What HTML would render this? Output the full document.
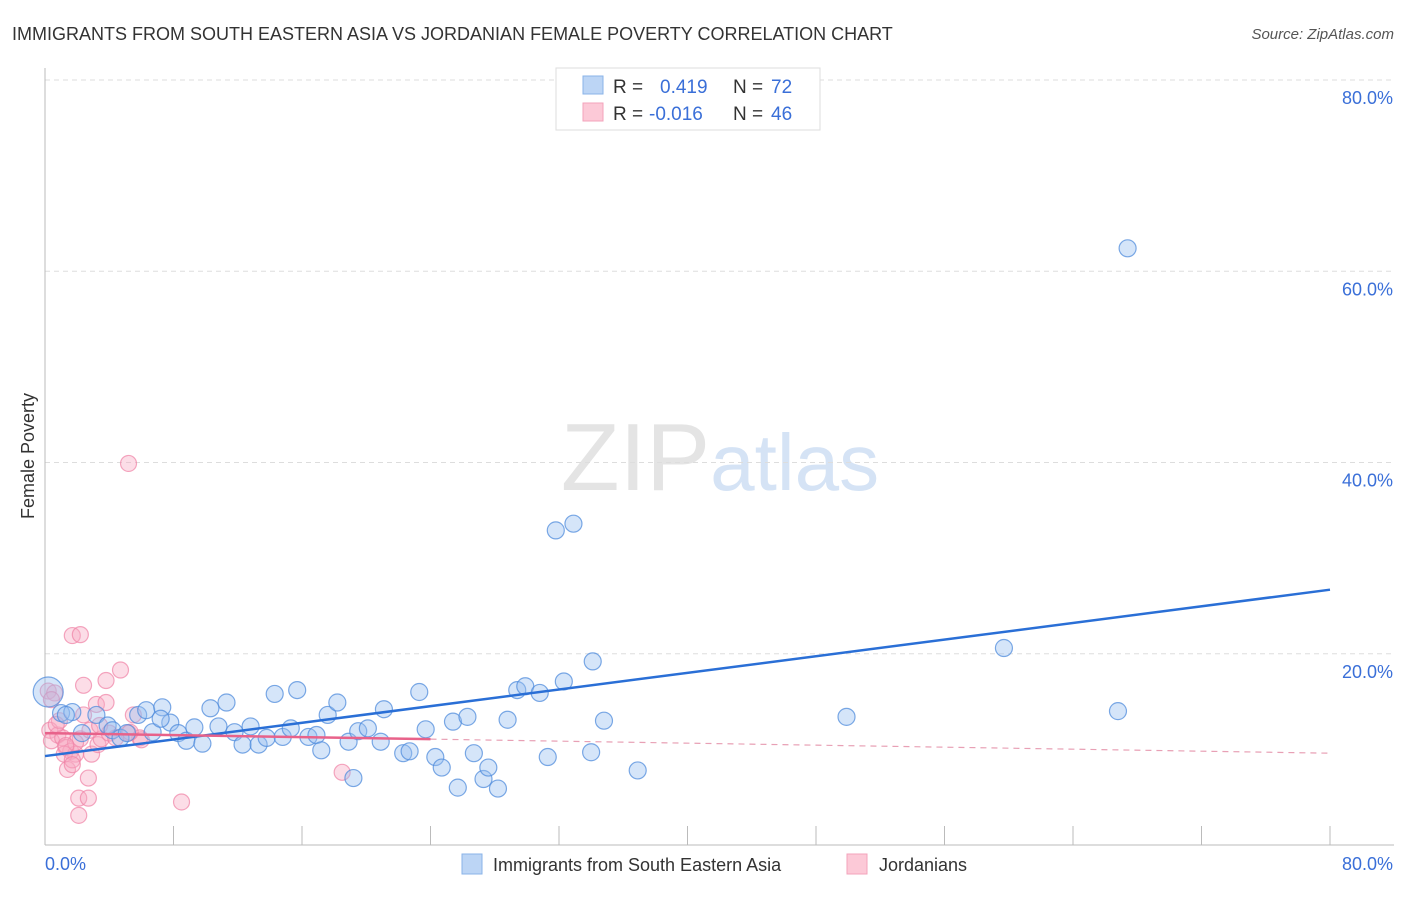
<!DOCTYPE html>
<html><head><meta charset="utf-8"><style>
body{margin:0;background:#fff;font-family:"Liberation Sans",sans-serif;}
svg text{font-family:"Liberation Sans",sans-serif;}
</style></head><body>
<svg id="chart" width="1406" height="892" xmlns="http://www.w3.org/2000/svg">
<text x="12" y="40" font-size="18" fill="#333">IMMIGRANTS FROM SOUTH EASTERN ASIA VS JORDANIAN FEMALE POVERTY CORRELATION CHART</text>
<text x="1394" y="39" font-size="15" fill="#555" font-style="italic" text-anchor="end">Source: ZipAtlas.com</text>
<text x="720" y="490" font-size="96" text-anchor="middle" fill="#e4e4e4" font-family="Liberation Serif">ZIP<tspan fill="#d5e3f5" font-family="Liberation Sans" font-size="80">atlas</tspan></text>
<text transform="translate(34,456) rotate(-90)" font-size="18" fill="#333" text-anchor="middle">Female Poverty</text>
<g id="grid"></g><g id="marks"></g>
<g>
<rect x="556" y="68" width="264" height="62" fill="#fff" stroke="#ddd"/>
<rect x="583" y="76" width="20" height="18" fill="#bcd5f5" stroke="#8ab3e8"/>
<rect x="583" y="103" width="20" height="18" fill="#fcc9d7" stroke="#f3a3bb"/>
<text x="613" y="93" font-size="19" fill="#333">R = </text><text x="660" y="93" font-size="19" fill="#3a6fd8">0.419</text>
<text x="733" y="93" font-size="19" fill="#333">N = </text><text x="771" y="93" font-size="19" fill="#3a6fd8">72</text>
<text x="613" y="120" font-size="19" fill="#333">R = </text><text x="649" y="120" font-size="19" fill="#3a6fd8">-0.016</text>
<text x="733" y="120" font-size="19" fill="#333">N = </text><text x="771" y="120" font-size="19" fill="#3a6fd8">46</text>
</g>
<g>
<rect x="462" y="854" width="20" height="20" fill="#bcd5f5" stroke="#8ab3e8"/>
<text x="493" y="871" font-size="18" fill="#333">Immigrants from South Eastern Asia</text>
<rect x="847" y="854" width="20" height="20" fill="#fcc9d7" stroke="#f3a3bb"/>
<text x="879" y="871" font-size="18" fill="#333">Jordanians</text>
</g>
</svg>
<script>
const yTicks=[20,40,60,80];
const yTickLabels=["20.0%","40.0%","60.0%","80.0%"];
const xTickLabels=["0.0%","80.0%"];
const blueX=[0.2,1.0,1.7,1.3,2.3,3.2,3.9,4.2,4.7,5.1,5.8,6.3,6.7,7.3,7.8,8.3,8.8,9.3,9.8,10.3,10.8,11.3,11.8,12.3,12.8,13.3,13.8,14.3,14.8,15.3,15.7,16.4,16.9,17.2,17.6,18.2,18.9,19.5,20.1,20.9,21.1,22.3,22.7,23.3,23.7,24.3,24.7,25.4,25.7,26.3,26.7,27.3,27.6,28.2,28.8,29.4,29.9,30.8,31.3,31.8,32.3,32.9,34.0,34.1,34.8,36.9,49.9,59.7,66.8,67.4,19.2,7.2];
const blueY=[16.0,13.8,13.9,13.6,11.7,13.6,12.5,12.0,11.2,11.7,13.6,14.1,11.8,14.4,12.8,11.7,10.9,12.3,10.6,14.3,12.4,14.9,11.8,10.5,12.4,10.5,11.2,15.8,11.3,12.2,16.2,11.3,11.5,9.9,13.6,14.9,10.8,11.9,12.2,10.8,14.2,9.6,9.8,16.0,12.1,9.2,8.1,12.9,6.0,13.4,9.6,6.9,8.1,5.9,13.1,16.2,16.6,15.9,9.2,32.9,17.1,33.6,9.7,19.2,13.0,7.8,13.4,20.6,14.0,62.4,7.0,13.2];
const pinkX=[0.2,0.6,0.3,0.8,0.4,1.1,1.3,1.6,1.9,1.2,1.4,1.7,2.1,2.1,2.7,2.7,2.2,2.9,3.2,3.3,3.5,3.8,3.8,2.4,4.7,1.7,2.2,5.2,5.2,5.9,5.5,6.0,8.5,18.5,2.8,4.0,0.9,2.4,0.4,0.7,1.9,3.4,4.4,5.3,1.3,1.7];
const pinkY=[16.1,15.9,12.0,11.5,10.9,11.2,10.2,9.8,9.5,9.5,7.9,8.9,4.9,3.1,4.9,7.0,11.1,9.5,14.7,10.5,11.1,14.9,17.2,16.7,18.3,21.9,22.0,39.9,11.7,11.2,13.6,11.0,4.5,7.6,12.0,11.7,13.0,13.6,15.2,12.6,10.7,12.5,11.2,11.8,10.4,8.4];
const blueTrend=[0,9.3,80,26.7];
const pinkTrend=[0,11.7,80,9.6];
const pinkSolidEnd=24;
const X=v=>45+v*1285/80, Y=v=>845-v*(845-80)/80;
const NS="http://www.w3.org/2000/svg";
function mk(tag,attrs,parent){const e=document.createElementNS(NS,tag);for(const k in attrs)e.setAttribute(k,attrs[k]);parent.appendChild(e);return e;}
const grid=document.getElementById('grid'), marks=document.getElementById('marks');
yTicks.forEach((t,i)=>{
 const l=mk('line',{x1:45,x2:1394,y1:Y(t),y2:Y(t),stroke:'#ddd','stroke-dasharray':'5,4'},grid);
 
 
 const tx=mk('text',{x:1393,y:Y(t)+24,'font-size':18,fill:'#3a6fd8','text-anchor':'end'},grid);
 tx.textContent=yTickLabels[i];
 
 
});
const ax=mk('line',{x1:45,x2:1394,y1:845,y2:845,stroke:'#bbb'},grid);


const ay=mk('line',{x1:45,x2:45,y1:68,y2:845,stroke:'#bbb'},grid);


for(let i=1;i<=10;i++){const t=mk('line',{x1:X(i*8),x2:X(i*8),y1:826,y2:845,stroke:'#bbb'},grid);
 
 }
[[0,'start',45],[80,'end',1393]].forEach((d,i)=>{const tx=mk('text',{x:d[2],y:870,'font-size':18,fill:'#3a6fd8','text-anchor':d[1]},grid);tx.textContent=xTickLabels[i];
 
 });
pinkX.forEach((v,i)=>{const c=mk('circle',{cx:X(v),cy:Y(pinkY[i]),r:8,fill:'rgba(248,170,195,0.4)',stroke:'rgba(240,130,165,0.7)','stroke-width':1.2},marks);
 
 });
blueX.forEach((v,i)=>{const c=mk('circle',{cx:X(v),cy:Y(blueY[i]),r:i===0?15:8.5,fill:'rgba(150,190,240,0.4)',stroke:'rgba(80,140,220,0.75)','stroke-width':1.2},marks);
 
 });
const bl=mk('line',{x1:X(blueTrend[0]),y1:Y(blueTrend[1]),x2:X(blueTrend[2]),y2:Y(blueTrend[3]),stroke:'#2a6fd6','stroke-width':2.5},marks);


const pv=x=>pinkTrend[1]+(pinkTrend[3]-pinkTrend[1])*(x-pinkTrend[0])/(pinkTrend[2]-pinkTrend[0]);
const ps=mk('line',{x1:X(0),y1:Y(pv(0)),x2:X(pinkSolidEnd),y2:Y(pv(pinkSolidEnd)),stroke:'#e8628a','stroke-width':2.5},marks);


const pd=mk('line',{x1:X(pinkSolidEnd),y1:Y(pv(pinkSolidEnd)),x2:X(80),y2:Y(pv(80)),stroke:'#e8a0b5','stroke-width':1.2,'stroke-dasharray':'6,5'},marks);


</script>
</body></html>
